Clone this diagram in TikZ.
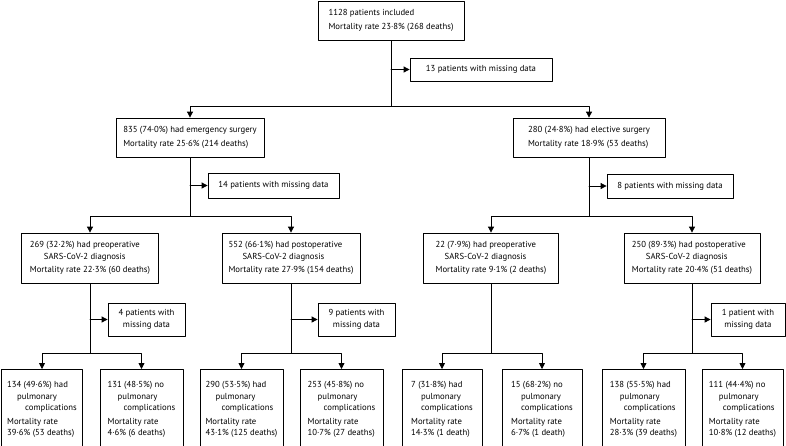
\documentclass[tikz,border=0pt]{standalone}
\usepackage{fontspec}
\setmainfont{PT Sans}
\usepackage{tikz}
\usetikzlibrary{arrows.meta}
\tikzset{
  box/.style={draw=black, line width=0.8pt, align=left, inner sep=0pt, font=\fontsize{8.7}{11.5}\selectfont},
  missbox/.style={box, align=center},
  lowbox/.style={box, minimum height=80, anchor=north}
}
\newcommand{\ind}[1]{\hspace*{#1pt}}

\begin{document}
\begin{tikzpicture}[line cap=round,line join=round,>={Triangle[length=6pt,width=6pt]},x=1pt,y=-1pt]
      \useasboundingbox (0,0) rectangle (786,445);
      % first two levels
      \node[box, minimum width=146, minimum height=39] (top) at (391,20.5) {1128 patients included\\[2pt]Mortality rate 23·8\% (268 deaths)};
      \node[missbox, minimum width=142, minimum height=23] (miss0) at (481,69.5) {13 patients with missing data};
      \node[box, minimum width=148, minimum height=39] (emerg) at (190,137.5) {835 (74·0\%) had emergency surgery\\[2pt]Mortality rate 25·6\% (214 deaths)};
      \node[box, minimum width=152, minimum height=39] (elect) at (589,137.5) {280 (24·8\%) had elective surgery\\[2pt]Mortality rate 18·9\% (53 deaths)};
      \coordinate (j0) at (391,106);
      \draw[line width=0.8pt] (top) -- (j0);
      \draw[->,line width=0.8pt] (top.south |- miss0.west) -- (miss0.west);
      \draw[->,line width=0.8pt] (j0) -| (emerg.north);
      \draw[->,line width=0.8pt] (j0) -| (elect.north);
      % timing of diagnosis
      \node[missbox, minimum width=131, minimum height=25] (miss1) at (273.5,185.5) {14 patients with missing data};
      \node[missbox, minimum width=126, minimum height=24] (miss2) at (670,186) {8 patients with missing data};
      \node[box, minimum width=137, minimum height=50] (preA) at (90,258) {269 (32·2\%) had preoperative\\\ind{14}SARS-CoV-2 diagnosis\\[2pt]Mortality rate 22·3\% (60 deaths)};
      \node[box, minimum width=138, minimum height=50] (postA) at (291,258) {552 (66·1\%) had postoperative\\\ind{14}SARS-CoV-2 diagnosis\\[2pt]Mortality rate 27·9\% (154 deaths)};
      \node[box, minimum width=135, minimum height=50] (preB) at (491,258) {22 (7·9\%) had preoperative\\\ind{9}SARS-CoV-2 diagnosis\\[2pt]Mortality rate 9·1\% (2 deaths)};
      \node[box, minimum width=136, minimum height=50] (postB) at (692,258) {250 (89·3\%) had postoperative\\\ind{14}SARS-CoV-2 diagnosis\\[2pt]Mortality rate 20·4\% (51 deaths)};
      \coordinate (j1) at (190,216);
      \coordinate (j2) at (589,216);
      \draw[line width=0.8pt] (emerg) -- (j1);
      \draw[line width=0.8pt] (elect) -- (j2);
      \draw[->,line width=0.8pt] (emerg.south |- miss1.west) -- (miss1.west);
      \draw[->,line width=0.8pt] (elect.south |- miss2.west) -- (miss2.west);
      \draw[->,line width=0.8pt] (j1) -| (preA.north);
      \draw[->,line width=0.8pt] (j1) -| (postA.north);
      \draw[->,line width=0.8pt] (j2) -| (preB.north);
      \draw[->,line width=0.8pt] (j2) -| (postB.north);
      % pulmonary complications
      \node[missbox, minimum width=77, minimum height=33] (miss3) at (146.5,319.5) {4 patients with\\missing data};
      \node[missbox, minimum width=77, minimum height=33] (miss4) at (356.5,319.5) {9 patients with\\missing data};
      \node[missbox, minimum width=74, minimum height=33] (miss5) at (748,319.5) {1 patient with\\missing data};
      \node[lowbox, minimum width=81] (b1) at (42,369) {134 (49·6\%) had\\\ind{10}pulmonary\\\ind{18}complications\\[2pt]Mortality rate\\39·6\% (53 deaths)};
      \node[lowbox, minimum width=83] (b2) at (141.5,369) {131 (48·5\%) no\\\ind{10}pulmonary\\\ind{16}complications\\[2pt]Mortality rate\\4·6\% (6 deaths)};
      \node[lowbox, minimum width=83] (b3) at (241.5,369) {290 (53·5\%) had\\\ind{10}pulmonary\\\ind{16}complications\\[2pt]Mortality rate\\43·1\% (125 deaths)};
      \node[lowbox, minimum width=83] (b4) at (341.5,369) {253 (45·8\%) no\\\ind{10}pulmonary\\\ind{16}complications\\[2pt]Mortality rate\\10·7\% (27 deaths)};
      \node[lowbox, minimum width=80] (b5) at (442,369) {7 (31·8\%) had\\\ind{10}pulmonary\\\ind{10}complications\\[2pt]Mortality rate\\14·3\% (1 death)};
      \node[lowbox, minimum width=80] (b6) at (542,369) {15 (68·2\%) no\\\ind{10}pulmonary\\\ind{10}complications\\[2pt]Mortality rate\\6·7\% (1 death)};
      \node[lowbox, minimum width=83] (b7) at (643.5,369) {138 (55·5\%) had\\\ind{10}pulmonary\\\ind{14}complications\\[2pt]Mortality rate\\28·3\% (39 deaths)};
      \node[lowbox, minimum width=81] (b8) at (742.5,369) {111 (44·4\%) no\\\ind{10}pulmonary\\\ind{14}complications\\[2pt]Mortality rate\\10·8\% (12 deaths)};
      \draw[->,line width=0.8pt] (postA.south |- miss4.west) -- (miss4.west);
      \draw[->,line width=0.8pt] (preA.south |- miss3.west) -- (miss3.west);
      \draw[->,line width=0.8pt] (postB.south |- miss5.west) -- (miss5.west);
      \foreach \up/\lft/\rgt in {preA/b1/b2, postA/b3/b4, preB/b5/b6, postB/b7/b8}
      {
        \coordinate (j-\up) at (\up.south |- 0,353);
        \draw[line width=0.8pt] (\up) -- (j-\up);
        \draw[->,line width=0.8pt] (j-\up) -| (\lft.north);
        \draw[->,line width=0.8pt] (j-\up) -| (\rgt.north);
      }
\end{tikzpicture}
\end{document}
